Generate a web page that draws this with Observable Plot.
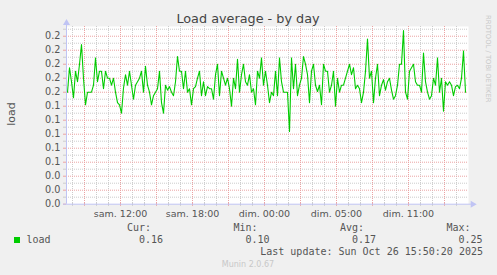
<!DOCTYPE html>
<html><head><meta charset="utf-8">
<script src="https://cdn.jsdelivr.net/npm/d3@7"></script>
<script src="https://cdn.jsdelivr.net/npm/@observablehq/plot@0.6"></script>
<style>
html,body{margin:0;padding:0;background:#f0f0f0;}
#chart{position:relative;width:497px;height:275px;overflow:hidden;}
</style></head><body><div id="chart"></div>
<script>
const titleText = "Load average - by day";
const yAxisLabel = "load";
const seriesName = "load";
const sideText = "RRDTOOL / TOBI OETIKER";
const footerText = "Munin 2.0.67";
const lastUpdateText = "Last update: Sun Oct 26 15:50:20 2025";
const legendHeaders = ["Cur:", "Min:", "Avg:", "Max:"];
const legendValues = ["0.16", "0.10", "0.17", "0.25"];

// x in hours since Sat Oct 25 00:00 UTC
const xTickHours = [10, 16, 22, 28, 34];
const xTickLabels = ["sam. 12:00", "sam. 18:00", "dim. 00:00", "dim. 05:00", "dim. 11:00"];
const xMajorHours = [7, 10, 13, 16, 19, 22, 25, 28, 31, 34, 37];
const xMinorHours = [6, 8, 9, 11, 12, 14, 15, 17, 18, 20, 21, 23, 24, 26, 27, 29, 30, 32, 33, 35, 36, 38];
const yTicks = [0, 0.02, 0.04, 0.06, 0.08, 0.10, 0.12, 0.14, 0.16, 0.18, 0.20, 0.22, 0.24];
const yTickLabels = ["0.0", "0.0", "0.0", "0.1", "0.1", "0.1", "0.1", "0.1", "0.2", "0.2", "0.2", "0.2", "0.2"];
const yMinor = [0.01, 0.03, 0.05, 0.07, 0.09, 0.11, 0.13, 0.15, 0.17, 0.19, 0.21, 0.23, 0.25];

// samples every 10 minutes starting 05:35 UTC
const sampleStartHour = 5 + 35 / 60;
const sampleStepHours = 1 / 6;
const loadValues = [
  0.16, 0.195, 0.175, 0.152, 0.19, 0.175, 0.20, 0.228, 0.18, 0.142, 0.16, 0.16, 0.16, 0.17,
  0.209, 0.175, 0.19, 0.19, 0.165, 0.19, 0.18, 0.18, 0.17, 0.18, 0.16, 0.145, 0.142, 0.13,
  0.166, 0.185, 0.17, 0.19, 0.17, 0.15, 0.17, 0.175, 0.18, 0.19, 0.16, 0.197, 0.17, 0.16, 0.142,
  0.155, 0.16, 0.165, 0.19, 0.145, 0.13, 0.17, 0.163, 0.168, 0.16, 0.155, 0.175, 0.211, 0.19,
  0.19, 0.165, 0.19, 0.16, 0.165, 0.142, 0.165, 0.168, 0.18, 0.19, 0.155, 0.175, 0.155, 0.168, 0.165,
  0.165, 0.15, 0.185, 0.20, 0.155, 0.19, 0.18, 0.17, 0.18, 0.165, 0.14, 0.18, 0.165, 0.207, 0.16,
  0.185, 0.20, 0.175, 0.17, 0.185, 0.16, 0.165, 0.142, 0.19, 0.18, 0.209, 0.17, 0.19, 0.17,
  0.145, 0.16, 0.155, 0.19, 0.155, 0.209, 0.175, 0.16, 0.16, 0.16, 0.104, 0.209, 0.165, 0.20,
  0.155, 0.17, 0.18, 0.211, 0.20, 0.185, 0.145, 0.19, 0.20, 0.17, 0.161, 0.17, 0.142, 0.20, 0.19,
  0.19, 0.16, 0.17, 0.19, 0.14, 0.18, 0.16, 0.17, 0.17, 0.18, 0.19, 0.20, 0.185, 0.195,
  0.165, 0.17, 0.165, 0.145, 0.16, 0.19, 0.236, 0.18, 0.19, 0.145, 0.18, 0.20, 0.155, 0.17, 0.178,
  0.163, 0.175, 0.18, 0.163, 0.15, 0.155, 0.17, 0.20, 0.20, 0.248, 0.16, 0.15, 0.19, 0.195,
  0.20, 0.175, 0.17, 0.17, 0.16, 0.216, 0.175, 0.16, 0.15, 0.155, 0.18, 0.17, 0.209, 0.16,
  0.18, 0.133, 0.175, 0.17, 0.175, 0.17, 0.155, 0.168, 0.17, 0.165, 0.18, 0.219, 0.16
];

const data = loadValues.map((v, i) => ({h: sampleStartHour + i * sampleStepHours, v}));
const xDomain = [5.5, 39];
const yDomain = [0, 0.2539];
const gridGray = "#cccccc";
const gridRed = "#eba3a3";
const axisColor = "#c0c4f4";
const lineColor = "#00cc00";

const chart = Plot.plot({
  width: 497, height: 275,
  marginLeft: 66, marginRight: 29, marginTop: 26, marginBottom: 71.3,
  x: {type: "linear", domain: xDomain, axis: null},
  y: {domain: yDomain, axis: null},
  style: {background: "transparent", fontFamily: "DejaVu Sans", overflow: "visible"},
  marks: [
    Plot.frame({fill: "white", stroke: "none"}),
    Plot.ruleY(yMinor, {stroke: gridGray, strokeDasharray: "1,1"}),
    Plot.ruleX(xMinorHours, {stroke: gridGray, strokeDasharray: "1,1"}),
    Plot.ruleY(yTicks.slice(1), {stroke: gridRed, strokeDasharray: "1,1"}),
    Plot.ruleX(xMajorHours, {stroke: gridRed, strokeDasharray: "1,1"}),
    Plot.ruleY(yMinor, {x1: xDomain[0] - 0.25, x2: xDomain[0], stroke: gridGray}),
    Plot.ruleY(yTicks, {x1: xDomain[0] - 0.25, x2: xDomain[0], stroke: gridRed}),
    Plot.ruleX(xMinorHours, {y1: 0.002, y2: -0.003, stroke: gridGray}),
    Plot.ruleX(xMajorHours, {y1: 0.002, y2: -0.003, stroke: gridRed}),
    Plot.ruleY([0], {x1: xDomain[0] - 0.25, x2: xDomain[1] + 0.3, stroke: axisColor}),
    Plot.ruleX([xDomain[0]], {y1: 0, y2: yDomain[1] + 0.004, stroke: axisColor}),
    Plot.dot([0], {x: xDomain[1] + 0.35, y: 0, symbol: "triangle", rotate: 90, r: 2.6, fill: axisColor, stroke: "none"}),
    Plot.dot([0], {x: xDomain[0], y: yDomain[1] + 0.005, symbol: "triangle", r: 2.6, fill: axisColor, stroke: "none"}),
    Plot.line(data, {x: "h", y: "v", stroke: lineColor, strokeWidth: 1.1}),
    Plot.text(yTicks, {y: d => d, text: (d, i) => yTickLabels[i], frameAnchor: "left", textAnchor: "end", dx: -6, fontSize: 9.7, fill: "#555"}),
    Plot.text(xTickHours, {x: d => d, text: (d, i) => xTickLabels[i], frameAnchor: "bottom", lineAnchor: "middle", dy: 10, fontSize: 9.5, fill: "#555"})
  ]
});
document.getElementById("chart").appendChild(chart);

const svg = d3.select(chart);
svg.append("text").attr("x", 248).attr("y", 22.6).attr("text-anchor", "middle")
  .attr("font-family", "DejaVu Sans").attr("font-size", 12.8).attr("fill", "#444").text(titleText);
svg.append("text").attr("transform", "translate(14.5,114) rotate(-90)").attr("text-anchor", "middle")
  .attr("font-family", "DejaVu Sans").attr("font-size", 11).attr("fill", "#555").text(yAxisLabel);
svg.append("text").attr("transform", "translate(486,15) rotate(90)").attr("text-anchor", "start")
  .attr("font-family", "DejaVu Sans").attr("font-size", 6.8).attr("fill", "#c8c8c8").text(sideText);
const mono = "DejaVu Sans Mono";
svg.append("rect").attr("x", 14).attr("y", 237).attr("width", 6).attr("height", 6).attr("fill", lineColor);
svg.append("text").attr("x", 26.5).attr("y", 243).attr("text-anchor", "start").attr("font-family", mono).attr("font-size", 10).attr("fill", "#555").text(seriesName);
legendHeaders.forEach((t, i) => {
  svg.append("text").attr("x", 151 + i * 106.5).attr("y", 231).attr("text-anchor", "end")
    .attr("font-family", mono).attr("font-size", 10).attr("fill", "#555").text(t);
  svg.append("text").attr("x", 163 + i * 106.5).attr("y", 243).attr("text-anchor", "end")
    .attr("font-family", mono).attr("font-size", 10).attr("fill", "#555").text(legendValues[i]);
});
svg.append("text").attr("x", 483).attr("y", 255).attr("text-anchor", "end")
  .attr("font-family", mono).attr("font-size", 10).attr("fill", "#555").text(lastUpdateText);
svg.append("text").attr("x", 248).attr("y", 267).attr("text-anchor", "middle")
  .attr("font-family", "DejaVu Sans").attr("font-size", 8).attr("fill", "#c8c8c8").text(footerText);
</script></body></html>
